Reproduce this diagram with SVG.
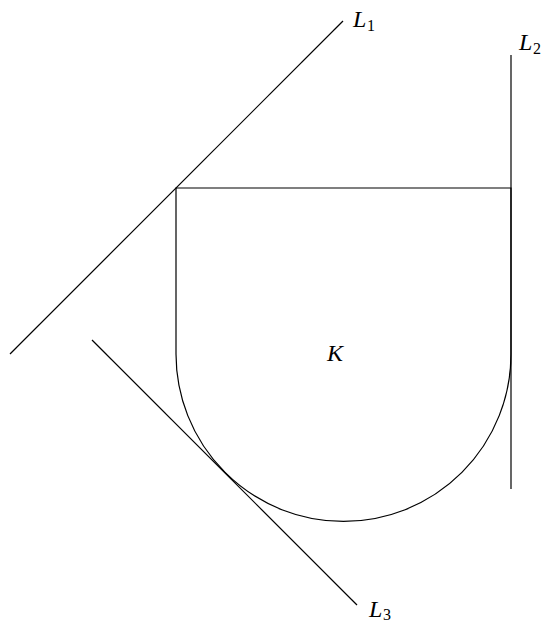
<svg xmlns="http://www.w3.org/2000/svg" width="546" height="623" viewBox="0 0 546 623">
<style>
.ln{fill:none;stroke:#000;stroke-width:1.2}
.t{font-family:"Liberation Serif",serif;font-style:italic;font-size:24px;fill:#000}
.s{font-family:"Liberation Serif",serif;font-size:16px;fill:#000}
</style>
<rect width="546" height="623" fill="#fff"/>
<g id="K">
<path class="ln" d="M176,354 L176,188 L511,188 L511,354 A167.5,167.5 0 0 1 176,354 Z"/>
<text class="t" x="327" y="361">K</text>
</g>
<g id="connectors">
<line id="L1line" class="ln" x1="10" y1="354" x2="343" y2="21"/>
<line id="L2line" class="ln" x1="511" y1="55" x2="511" y2="489"/>
<line id="L3line" class="ln" x1="92" y1="340" x2="357" y2="605"/>
</g>
<g id="L1"><text class="t" x="353" y="27">L</text><text class="s" x="367" y="31">1</text></g>
<g id="L2"><text class="t" x="519" y="50">L</text><text class="s" x="533" y="54">2</text></g>
<g id="L3"><text class="t" x="369" y="617">L</text><text class="s" x="383" y="620">3</text></g>
</svg>
